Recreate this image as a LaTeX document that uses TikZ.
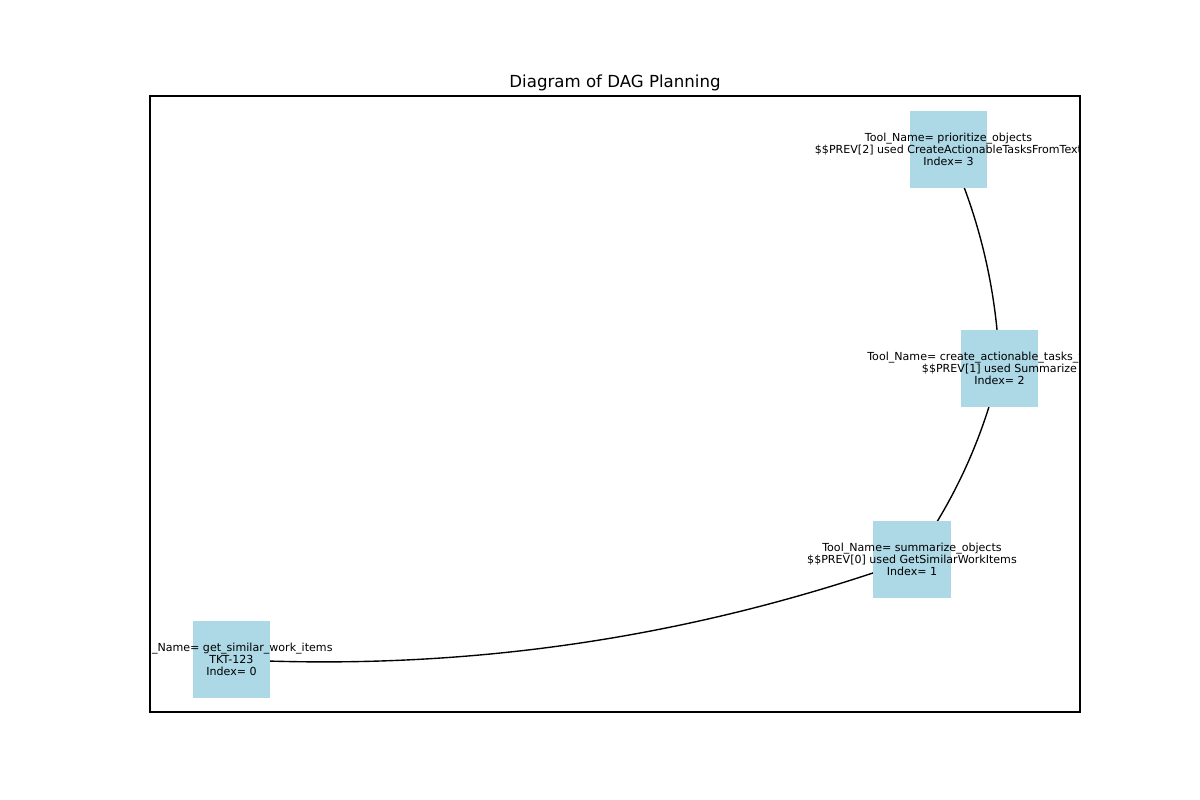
\documentclass[tikz,border=0pt]{standalone}
\usepackage{fontspec}
\setmainfont{DejaVu Sans}
\usetikzlibrary{calc,backgrounds}
\definecolor{nodeblue}{HTML}{ADD8E6}

\begin{document}
\begin{tikzpicture}[x=0.01in,y=-0.01in,font=\fontsize{8}{8.64}\selectfont,
  box/.style={fill=nodeblue,minimum size=0.77in,inner sep=0},
  lbl/.style={align=center,inner sep=0}]
  \useasboundingbox (0,0) rectangle (1200,800);
  \node[inner sep=0,anchor=base,font=\fontsize{12}{14}\selectfont] (title) at (615,88) {Diagram of DAG Planning};
  \draw[line width=0.8pt] (150,96) rectangle (1080,712);
  \node[box] (n0) at (231.5,659.5) {};
  \node[box] (n1) at (912,559.5) {};
  \node[box] (n2) at (999.5,368.5) {};
  \node[box] (n3) at (948.5,149.5) {};
  % arc edges, rad 0.1
  \begin{scope}[on background layer]
    \foreach \a/\b in {n0/n1,n1/n2,n2/n3} {
      \coordinate (c) at ($(\a)!0.5!(\b)$);
      \coordinate (c) at ($(c)!0.2!-90:(\b)$);
      \draw[line width=1pt] (\a.center) .. controls ($(\a.center)!2/3!(c)$) and ($(\b.center)!2/3!(c)$) .. (\b.center);
    }
  \end{scope}
  \begin{scope}
    \clip (150,96) rectangle (1080,712);
    \node[lbl] (t0) at (n0) {Tool\_Name= get\_similar\_work\_items\\TKT-123\\Index= 0};
    \node[lbl] (t1) at (n1) {Tool\_Name= summarize\_objects\\\$\$PREV[0] used GetSimilarWorkItems\\Index= 1};
    \node[lbl] (t2) at (n2) {Tool\_Name= create\_actionable\_tasks\_from\_text\\\$\$PREV[1] used Summarize\\Index= 2};
    \node[lbl] (t3) at (n3) {Tool\_Name= prioritize\_objects\\\$\$PREV[2] used CreateActionableTasksFromText\\Index= 3};
  \end{scope}
\end{tikzpicture}
\end{document}
